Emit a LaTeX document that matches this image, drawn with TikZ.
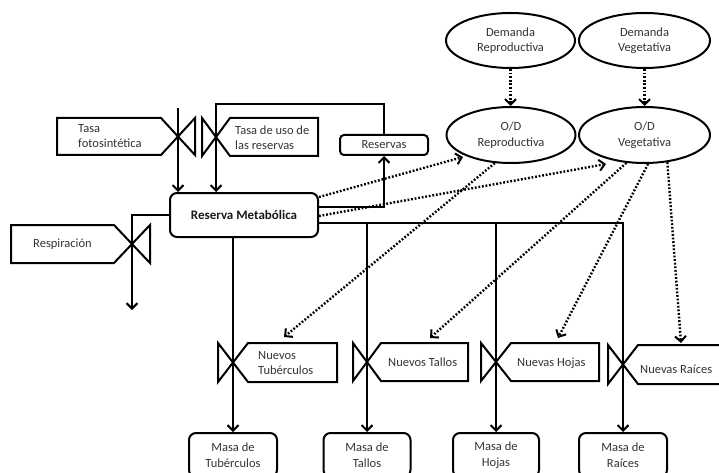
\documentclass[tikz,border=0pt]{standalone}
\usepackage{fontspec}
\setmainfont{Carlito}
\usetikzlibrary{arrows.meta,shapes.geometric,calc}
\begin{document}
\begin{tikzpicture}[x=1pt,y=-1pt,
  ln/.style={line width=2pt, line join=miter},
  flow/.style={ln, -{Straight Barb[length=5.5pt,width=11pt]}},
  dflow/.style={line width=2.4pt, dash pattern=on 1.8pt off 1.8pt, -{Straight Barb[length=5.5pt,width=11pt,line width=2pt]}},
  lbl/.style={font=\fontsize{12.5}{15.5}\selectfont, text=black!80, align=left, inner sep=0pt},
  rbox/.style={draw, line width=2pt, rounded corners=7pt, font=\fontsize{12.5}{15.5}\selectfont, text=black!80, align=center, inner sep=0pt},
  oval/.style={ellipse, draw, line width=2pt, inner sep=0pt, minimum width=129pt, minimum height=55pt, font=\fontsize{12.5}{15.5}\selectfont, text=black!80, align=center}
]
\useasboundingbox (0,0) rectangle (719,473);
\clip (0,0) rectangle (719,473);

% main stocks
\node[rbox, minimum width=148pt, minimum height=44pt, font=\fontsize{13}{15.5}\selectfont\bfseries, text=black!90] (RM) at (244,215) {Reserva Metabólica};
\node[rbox, rounded corners=4pt, minimum width=88pt, minimum height=20pt] (Res) at (384,145) {Reservas};

% ellipses
\node[oval] (DR) at (510.5,40.5) {Demanda\\Reproductiva};
\node[oval, minimum width=131pt] (DV) at (644.5,40.5) {Demanda\\Vegetativa};
\node[oval, minimum height=56pt] (ODR) at (511,135) {O/D\\Reproductiva};
\node[oval, minimum width=131pt, minimum height=56pt] (ODV) at (644.5,135) {O/D\\Vegetativa};

% mass boxes
\node[rbox, minimum width=88pt, minimum height=44pt] (MTu) at (233,455) {Masa de\\Tubérculos};
\node[rbox, minimum width=87pt, minimum height=44pt] (MTa) at (367,455) {Masa de\\Tallos};
\node[rbox, minimum width=86pt, minimum height=44pt] (MH) at (496,455) {Masa de\\Hojas};
\node[rbox, minimum width=88pt, minimum height=44pt] (MRa) at (623,455) {Masa de\\Raíces};

% valve outlines
\draw[ln] (57,118) -- (161,118) -- (195,155) -- (195,118) -- (161,155) -- (57,155) -- cycle;
\draw[ln] (230,118) -- (318,118) -- (318,156) -- (230,156) -- (202,118) -- (202,156) -- cycle;
\draw[ln] (11,225) -- (114,225) -- (150,263) -- (150,225) -- (114,263) -- (11,263) -- cycle;
\draw[ln] (248,343) -- (337,343) -- (337,382) -- (248,382) -- (218,343) -- (218,382) -- cycle;
\draw[ln] (381,343) -- (468,343) -- (468,381) -- (381,381) -- (353,343) -- (353,381) -- cycle;
\draw[ln] (511,343) -- (599,343) -- (599,381) -- (511,381) -- (481,343) -- (481,381) -- cycle;
\draw[ln] (638,345) -- (730,345) -- (730,384) -- (638,384) -- (608,345) -- (608,384) -- cycle;

% valve labels
\node[lbl, anchor=west] (tf) at (78,136) {Tasa\\fotosintética};
\node[lbl, anchor=west] (tu) at (235,137.5) {Tasa de uso de\\las reservas};
\node[lbl, anchor=west] (resp) at (33,244) {Respiración};
\node[lbl, anchor=west] (NT) at (258,363) {Nuevos\\Tubérculos};
\node[lbl, anchor=west] (NTa) at (388,362) {Nuevos Tallos};
\node[lbl, anchor=west] (NH) at (517,363) {Nuevas Hojas};
\node[lbl, anchor=west] (NR) at (640,369) {Nuevas Raíces};

% helper coordinates
\coordinate (tfTop) at (178,108);
\coordinate (tuTop) at (216,104);
\coordinate (y207) at (0,207);
\coordinate (y197) at (0,197);
\coordinate (y216) at (0,216);
\coordinate (bus) at (0,223);
\coordinate (respEnd) at (132,310);
\coordinate (inODR) at (463,157);
\coordinate (inODV) at (606,164);
\coordinate (tNT) at (284,337);
\coordinate (tNTa) at (430,338);
\coordinate (tNH) at (558,338);
\coordinate (tNR) at (681,343);

% solid flows
\draw[flow] (tfTop) -- (tfTop |- RM.north);
\draw[flow] (Res.north) |- (tuTop) -- (tuTop |- RM.north);
\draw[flow] (RM.east |- y207) -| (Res.south);
\draw[flow] (RM.west) -| (respEnd);
\draw[flow] (RM.south -| MTu.north) -- (MTu.north);
\draw[flow] (RM.east |- bus) -| (MRa.north);
\draw[flow] (MTa.north |- bus) -- (MTa.north);
\draw[flow] (MH.north |- bus) -- (MH.north);

% information links
\draw[dflow] (DR.south) -- (DR.south |- ODR.north);
\draw[dflow] (DV.south) -- (DV.south |- ODV.north);
\draw[dflow] (RM.east |- y197) -- (inODR);
\draw[dflow] (RM.east |- y216) -- (inODV);
\draw[dflow] (ODR.240) -- (tNT);
\draw[dflow] (ODV.237) -- (tNTa);
\draw[dflow] (ODV.277) -- (tNH);
\draw[dflow] (ODV.310) -- (tNR);
\end{tikzpicture}
\end{document}
